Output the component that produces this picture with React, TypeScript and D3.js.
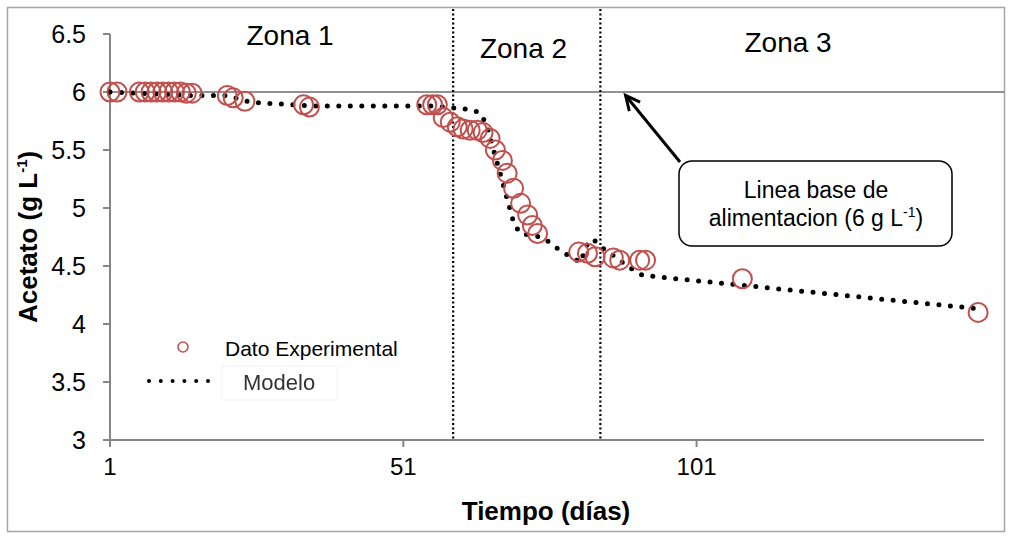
import React from "react";
import * as d3 from "d3";

// Experimental acetate measurements (day, g/L)
const expDays = [1, 2.2, 6, 7, 8, 9, 10, 11, 12, 13, 14, 15, 21, 22, 24, 34, 35, 55, 56, 56.8, 57.8, 59, 60.2, 61.2, 62.4, 63.6, 64.6, 65.8, 66.7, 67.9, 68.7, 69.8, 71, 72.2, 73, 73.9, 80.9, 82.4, 83.7, 86.8, 87.9, 91.3, 92.3, 108.8, 149];
const expValues = [6.0, 6.0, 6.0, 6.0, 6.0, 6.0, 6.0, 6.0, 6.0, 6.0, 5.99, 5.99, 5.97, 5.95, 5.92, 5.89, 5.87, 5.89, 5.89, 5.89, 5.78, 5.74, 5.7, 5.68, 5.67, 5.67, 5.65, 5.6, 5.5, 5.41, 5.3, 5.17, 5.04, 4.94, 4.85, 4.78, 4.62, 4.61, 4.58, 4.57, 4.55, 4.55, 4.55, 4.39, 4.1];

// Model curve vertices (day, g/L)
const modelDays = [1, 15, 21, 25, 29, 35, 56, 62.3, 64.1, 65.2, 69.9, 71.0, 74.4, 76.1, 77.8, 79.5, 81.2, 82.6, 83.6, 85.1, 86.8, 88.4, 90.1, 91.8, 93.7, 149.3];
const modelValues = [6.0, 5.97, 5.97, 5.91, 5.9, 5.88, 5.88, 5.85, 5.82, 5.72, 4.86, 4.78, 4.75, 4.7, 4.63, 4.58, 4.53, 4.72, 4.72, 4.65, 4.59, 4.53, 4.47, 4.42, 4.41, 4.13];

const xTicks = [1, 51, 101];
const yTicks = [3, 3.5, 4, 4.5, 5, 5.5, 6, 6.5];
const baseline = 6;
const zoneBounds = [59.5, 84.6];
const zoneLabels = ["Zona 1", "Zona 2", "Zona 3"];
const zoneLabelDays = [31.7, 71.5, 116.6];

const FONT = "'Liberation Sans', Arial, sans-serif";
const RED = "#C0504D";
const AXIS = "#868686";

export default function App() {
  const left = 110, right = 984, top = 34, bottom = 440;
  const x = d3.scaleLinear().domain([1, 150]).range([left, right]);
  const y = d3.scaleLinear().domain([3, 6.5]).range([bottom, top]);

  const modelPts: [number, number][] = modelDays.map((d, i) => [d, modelValues[i]]);
  const line = d3.line<[number, number]>().x((d) => x(d[0])).y((d) => y(d[1]));

  const zoneLabelY = [45, 58, 52];

  // annotation arrow geometry
  const tipX = x(88.9), tipY = y(5.97);
  const tailX = 680, tailY = 162;
  const ang = Math.atan2(tailY - tipY, tailX - tipX);
  const headLen = 16, headSpread = 0.45;
  const h1 = [tipX + headLen * Math.cos(ang - headSpread), tipY + headLen * Math.sin(ang - headSpread)];
  const h2 = [tipX + headLen * Math.cos(ang + headSpread), tipY + headLen * Math.sin(ang + headSpread)];

  return (
    <svg
      width={1011}
      height={536}
      style={{ position: "absolute", left: 0, top: 0, background: "#fff" }}
      fontFamily={FONT}
    >
      <defs>
        <filter id="soft" x="-10%" y="-30%" width="120%" height="160%">
          <feGaussianBlur stdDeviation="0.7" />
        </filter>
      </defs>
      <rect x={0} y={0} width={1011} height={536} fill="#fff" />
      <rect x={7.5} y={7.5} width={997} height={524} fill="none" stroke="#a6a6a6" strokeWidth={1.5} />

      {/* zone separators */}
      {zoneBounds.map((d) => (
        <line key={d} x1={x(d)} x2={x(d)} y1={9} y2={bottom} stroke="#000" strokeWidth={2.2} strokeDasharray="2 2.5" />
      ))}

      {/* baseline feed level */}
      <line x1={left} x2={1004} y1={y(baseline)} y2={y(baseline)} stroke="#222" strokeWidth={1.2} />

      {/* axes */}
      <line x1={left} x2={left} y1={top} y2={bottom} stroke={AXIS} strokeWidth={2} />
      <line x1={left} x2={right} y1={bottom} y2={bottom} stroke={AXIS} strokeWidth={2} />
      {yTicks.map((t) => (
        <g key={t}>
          <line x1={left - 7} x2={left} y1={y(t)} y2={y(t)} stroke={AXIS} strokeWidth={2} />
          <text x={86} y={y(t) + 9} textAnchor="end" fontSize={25} fill="#000">
            {t}
          </text>
        </g>
      ))}
      {xTicks.map((t) => (
        <g key={t}>
          <line x1={x(t)} x2={x(t)} y1={bottom} y2={bottom + 7} stroke={AXIS} strokeWidth={2} />
          <text x={x(t)} y={475} textAnchor="middle" fontSize={24} fill="#000">
            {t}
          </text>
        </g>
      ))}

      {/* axis titles */}
      <text x={546} y={520} textAnchor="middle" fontSize={26} fontWeight="bold" fill="#000">
        Tiempo (días)
      </text>
      <text transform={`translate(37,323) rotate(-90)`} textAnchor="start" fontSize={26} fontWeight="bold" fill="#000">
        Acetato (g L<tspan fontSize={15} dy={-10}>-1</tspan>
        <tspan dy={10}>)</tspan>
      </text>

      {/* zone labels */}
      {zoneLabels.map((z, i) => (
        <text key={z} x={x(zoneLabelDays[i])} y={zoneLabelY[i]} textAnchor="middle" fontSize={28} fill="#000">
          {z}
        </text>
      ))}

      {/* model (dotted) */}
      <path
        d={line(modelPts) || ""}
        fill="none"
        stroke="#000"
        strokeWidth={5}
        strokeLinecap="round"
        strokeDasharray="0 11.5"
      />

      {/* experimental data */}
      {expDays.map((d, i) => (
        <circle key={i} cx={x(d)} cy={y(expValues[i])} r={9.5} fill="none" stroke={RED} strokeWidth={2} />
      ))}

      {/* annotation */}
      <line x1={tailX} y1={tailY} x2={tipX} y2={tipY} stroke="#000" strokeWidth={3} />
      <polyline points={`${h1[0]},${h1[1]} ${tipX},${tipY} ${h2[0]},${h2[1]}`} fill="none" stroke="#000" strokeWidth={3} />
      <rect x={679} y={161} width={273} height={85} rx={13} fill="#fff" stroke="#000" strokeWidth={1.5} />
      <text x={816} y={198} textAnchor="middle" fontSize={23} fill="#000">
        Linea base de
      </text>
      <text x={816} y={226} textAnchor="middle" fontSize={23} fill="#000">
        alimentacion (6 g L<tspan fontSize={14} dy={-9}>-1</tspan>
        <tspan dy={9}>)</tspan>
      </text>

      {/* legend */}
      <circle cx={183} cy={347} r={5} fill="none" stroke={RED} strokeWidth={1.6} />
      <text x={225} y={356} fontSize={21} fill="#000">
        Dato Experimental
      </text>
      <line x1={149} x2={210} y1={381} y2={381} stroke="#000" strokeWidth={4} strokeLinecap="round" strokeDasharray="0 11.8" />
      <rect x={222} y={366} width={115} height={34} fill="#fff" stroke="#f3f3f3" strokeWidth={1} />
      <text x={243} y={390} fontSize={22} fill="#333" filter="url(#soft)">
        Modelo
      </text>
    </svg>
  );
}
